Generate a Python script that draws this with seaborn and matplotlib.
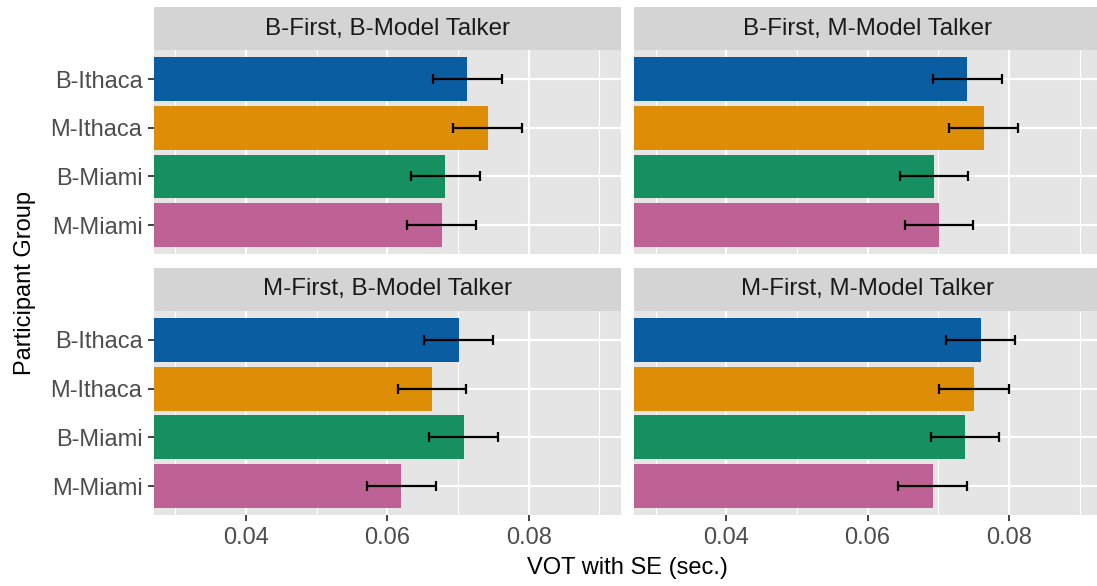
import numpy as np
import pandas as pd
import matplotlib
matplotlib.use("Agg")
import matplotlib.pyplot as plt
import seaborn as sns
from matplotlib.ticker import FixedLocator

# ---------------- data ----------------
groups = ["B-Ithaca", "M-Ithaca", "B-Miami", "M-Miami"]
facet_titles = ["B-First, B-Model Talker", "B-First, M-Model Talker",
                "M-First, B-Model Talker", "M-First, M-Model Talker"]

vot_bfirst_bmodel = [0.0713, 0.0742, 0.0682, 0.0677]
se_bfirst_bmodel = [0.0049, 0.0049, 0.00485, 0.00485]

vot_bfirst_mmodel = [0.0741, 0.0764, 0.0694, 0.0701]
se_bfirst_mmodel = [0.0049, 0.00485, 0.00485, 0.00485]

vot_mfirst_bmodel = [0.0701, 0.0663, 0.0708, 0.0620]
se_mfirst_bmodel = [0.0049, 0.00485, 0.0049, 0.0049]

vot_mfirst_mmodel = [0.0760, 0.0750, 0.0738, 0.0692]
se_mfirst_mmodel = [0.0049, 0.00495, 0.00485, 0.0049]

x_major = [0.04, 0.06, 0.08]
x_minor = [0.03, 0.05, 0.07, 0.09]
x_labels = ["0.04", "0.06", "0.08"]

colors = ["#0A5DA0", "#DE8D07", "#168F61", "#BE6295"]

# ---------------- style ----------------
sns.set_theme(style="white")
plt.rcParams['font.family'] = ['Liberation Sans', 'DejaVu Sans']

W, H = 1097, 586
fig = plt.figure(figsize=(W / 100, H / 100), dpi=100)
fig.patch.set_facecolor("white")


def px_axes(x0, y0, x1, y1):
    return fig.add_axes([x0 / W, 1 - y1 / H, (x1 - x0) / W, (y1 - y0) / H])


panels = [
    (vot_bfirst_bmodel, se_bfirst_bmodel, (154, 50, 621.3, 254.3), (7, 50), True, False),
    (vot_bfirst_mmodel, se_bfirst_mmodel, (634.3, 50, 1101.6, 254.3), (7, 50), False, False),
    (vot_mfirst_bmodel, se_mfirst_bmodel, (154, 310.7, 621.3, 515.3), (268.3, 310.7), True, True),
    (vot_mfirst_mmodel, se_mfirst_mmodel, (634.3, 310.7, 1101.6, 515.3), (268.3, 310.7), False, True),
]

TICK_FS = 17
STRIP_FS = 17.4
for (vals, ses, box, sbox, show_y, show_x), title in zip(panels, facet_titles):
    x0, y0, x1, y1 = box
    ax = px_axes(x0, y0, x1, y1)
    ax.set_facecolor("#E5E5E5")
    ax.set_axisbelow(True)
    df = pd.DataFrame({"group": groups, "vot": vals})
    sns.barplot(data=df, y="group", x="vot", hue="group", order=groups,
                hue_order=groups, palette=colors, width=0.9, errorbar=None,
                legend=False, saturation=1, linewidth=0, ax=ax, zorder=2)
    ax.errorbar(vals, np.arange(len(groups)), xerr=ses, fmt="none",
                ecolor="black", elinewidth=1.6, capsize=3.6, capthick=1.6,
                zorder=3)
    ax.set_xlim(0.0270, 0.0931)
    ax.set_ylim(3.6, -0.6)
    ax.xaxis.set_major_locator(FixedLocator(x_major))
    ax.xaxis.set_minor_locator(FixedLocator(x_minor))
    ax.grid(which="major", axis="both", color="white", linewidth=1.6, zorder=0)
    ax.grid(which="minor", axis="x", color="white", linewidth=0.8, zorder=0)
    for s in ax.spines.values():
        s.set_visible(False)
    ax.set_xlabel("")
    ax.set_ylabel("")
    ax.tick_params(axis="both", which="minor", length=0)
    ax.tick_params(axis="y", length=4.3, width=1.3, color="#333333",
                   labelsize=TICK_FS, labelcolor="#4D4D4D", pad=4,
                   left=show_y, labelleft=show_y)
    ax.tick_params(axis="x", length=4.3, width=1.3, color="#333333",
                   labelsize=TICK_FS, labelcolor="#4D4D4D", pad=4,
                   bottom=show_x, labelbottom=show_x)
    if show_x:
        ax.set_xticklabels(x_labels)

    sax = px_axes(x0, sbox[0], x1, sbox[1])
    sax.set_facecolor("#D4D4D4")
    sax.set_xticks([])
    sax.set_yticks([])
    for s in sax.spines.values():
        s.set_visible(False)
    sax.text((621.3 - 154) / 2 / (x1 - x0), 0.5, title, ha="center", va="center",
             fontsize=STRIP_FS, color="#1A1A1A", transform=sax.transAxes)

fig.text(627.6 / W, 1 - 568 / H, "VOT with SE (sec.)", ha="center", va="center",
         fontsize=17, color="black")
fig.text(25 / W, 1 - 282.6 / H, "Participant Group", ha="center", va="center",
         rotation=90, fontsize=17, color="black")

fig.savefig("out.png", dpi=100)
